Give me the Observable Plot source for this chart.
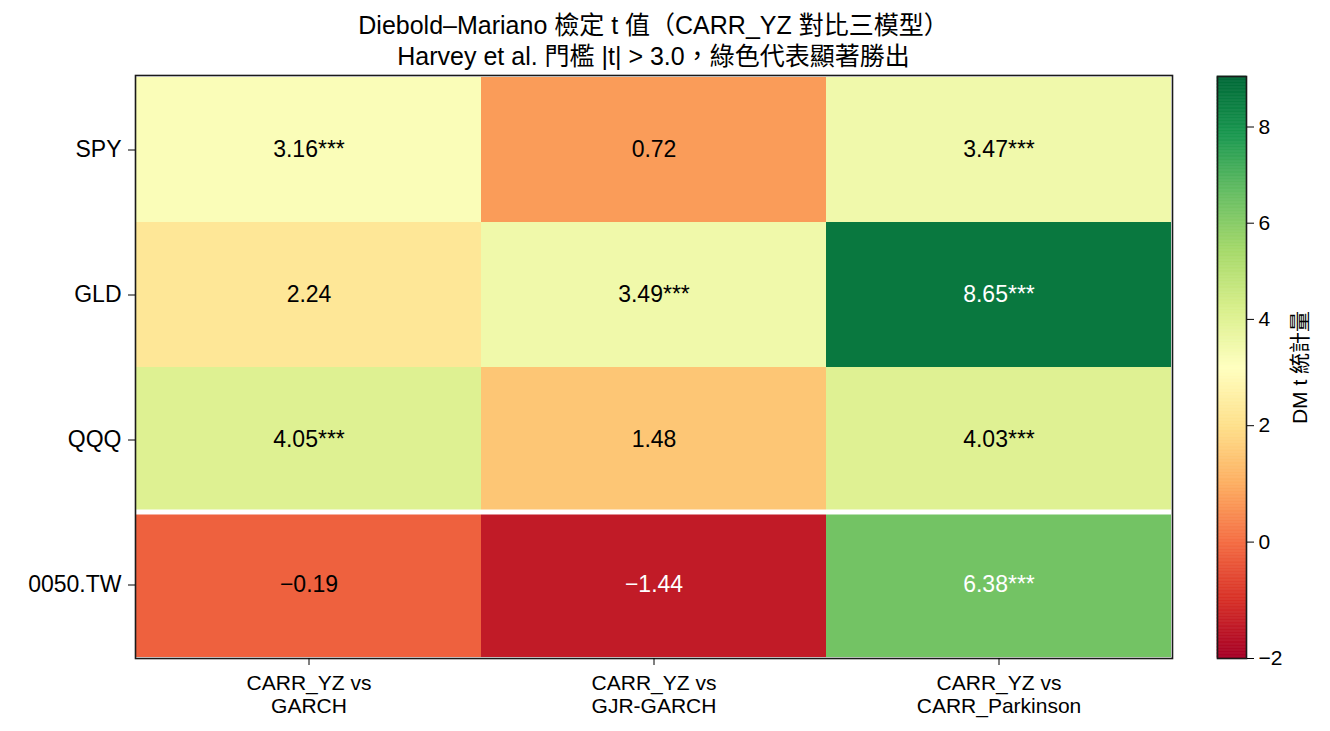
<!DOCTYPE html>
<html><head><meta charset="utf-8">
<script src="https://cdn.jsdelivr.net/npm/d3@7"></script>
<script src="https://cdn.jsdelivr.net/npm/@observablehq/plot@0.6"></script>
<style>
html,body{margin:0;padding:0;background:#fff;}
#wrap{position:relative;width:1330px;height:731px;font-family:"Liberation Sans","Noto Sans CJK TC",sans-serif;color:#000;overflow:hidden;}
#title{position:absolute;left:135px;width:1037px;top:10px;text-align:center;font-size:25px;line-height:31px;}
#heat{position:absolute;left:0;top:0;}
#cbar{position:absolute;left:1190px;top:0;}
</style></head><body>
<div id="wrap">
  <div id="title">
    <div>Diebold–Mariano 檢定 t 值（CARR_YZ 對比三模型）</div>
    <div>Harvey et al. 門檻 |t| &gt; 3.0，綠色代表顯著勝出</div>
  </div>
  <div id="heat"></div>
  <div id="cbar"></div>
</div>
<script>
// ---- data ----
const assets = ["SPY", "GLD", "QQQ", "0050.TW"];
const models = ["CARR_YZ vs\nGARCH", "CARR_YZ vs\nGJR-GARCH", "CARR_YZ vs\nCARR_Parkinson"];
const dmVsGarch = [3.16, 2.24, 4.05, -0.19];
const dmVsGjrGarch = [0.72, 3.49, 1.48, -1.44];
const dmVsCarrParkinson = [3.47, 8.65, 4.03, 6.38];
const threshold = 3.0;
const separatorAfter = "QQQ";
const colorbarTicks = [-2, 0, 2, 4, 6, 8];
const vmin = -2, vcenter = 3, vmax = 9.05;

// ---- style ----
const rdylgn = ["#a50026","#d73027","#f46d43","#fdae61","#fee08b","#ffffbf","#d9ef8b","#a6d96a","#66bd63","#1a9850","#006837"];
const FONT = '"Liberation Sans","Noto Sans CJK TC",sans-serif';
const FS = 23, FSX = 21;
const W = 1190, H = 731, mTop = 75, mBottom = 73, mLeft = 135, mRight = 18;

const series = [dmVsGarch, dmVsGjrGarch, dmVsCarrParkinson];
const data = [];
assets.forEach((a, i) => models.forEach((m, j) => data.push({asset: a, model: m, t: series[j][i]})));

// two-slope normalisation (vmin → 0, vcenter → 0.5, vmax → 1)
const norm = v => v <= vcenter ? 0.5 * (v - vmin) / (vcenter - vmin) : 0.5 + 0.5 * (v - vcenter) / (vmax - vcenter);
const invNorm = u => u <= 0.5 ? vmin + (u / 0.5) * (vcenter - vmin) : vcenter + ((u - 0.5) / 0.5) * (vmax - vcenter);
const stopValues = rdylgn.map((_, i) => invNorm(i / (rdylgn.length - 1)));
const colorScale = {type: "linear", domain: stopValues, range: rdylgn, interpolate: "rgb"};

const fmt = d3.format(".2f");
const label = d => fmt(d.t) + (d.t > threshold ? "***" : "");
const textFill = d => (d.t > 6 || d.t < -1) ? "white" : "black";

const sepIdx = assets.indexOf(separatorAfter);
const above = data.filter(d => assets.indexOf(d.asset) < sepIdx);
const atSep = data.filter(d => d.asset === separatorAfter);
const below = data.filter(d => assets.indexOf(d.asset) > sepIdx);
const cellOpts = {x: "model", y: "asset", fill: "t", inset: 0};

const heat = Plot.plot({
  width: W, height: H,
  marginTop: mTop, marginBottom: mBottom, marginLeft: mLeft, marginRight: mRight,
  style: {fontSize: FS + "px", fontFamily: FONT, color: "black", background: "transparent"},
  x: {domain: models, padding: 0, label: null},
  y: {domain: assets, padding: 0, label: null},
  color: colorScale,
  marks: [
    Plot.cell(above, cellOpts),
    Plot.cell(atSep, {...cellOpts, insetBottom: 2.5}),
    Plot.cell(below, {...cellOpts, insetTop: 2.5}),
    Plot.text(data, {x: "model", y: "asset", text: label, fill: textFill, fontSize: FS}),
    Plot.frame({stroke: "#1a1a1a", strokeWidth: 1.6}),
    Plot.axisY({tickSize: 7, tickPadding: 7, label: null, fontSize: FS}),
    Plot.axisX({tickSize: 7, tickPadding: 8, label: null, lineHeight: 1.1, fontSize: FSX})
  ]
});
document.getElementById("heat").appendChild(heat);

// ---- colorbar (y in normalised units) ----
const N = 400;
const ramp = d3.range(N).map(i => ({u1: i / N, u2: (i + 1) / N, v: invNorm((i + 0.5) / N)}));
const cbW = 140, cbTop = 76, cbBottomMargin = 73;
const cbar = Plot.plot({
  width: cbW, height: H,
  marginTop: cbTop, marginBottom: cbBottomMargin, marginLeft: 27, marginRight: cbW - 56,
  style: {fontSize: FS + "px", fontFamily: FONT, color: "black", background: "transparent"},
  x: {domain: [0, 1], axis: null},
  y: {domain: [0, 1], axis: null},
  color: colorScale,
  marks: [
    Plot.rect(ramp, {x1: 0, x2: 1, y1: "u1", y2: "u2", fill: "v", stroke: "v", strokeWidth: 0.6}),
    Plot.frame({stroke: "#1a1a1a", strokeWidth: 1.6}),
    Plot.axisY({anchor: "right", ticks: colorbarTicks.map(norm), tickFormat: u => d3.format("d")(invNorm(u)),
      tickSize: 7, tickPadding: 5, fontSize: FSX,
      label: "DM t 統計量", labelAnchor: "center", labelOffset: 60, labelArrow: "none"})
  ]
});
document.getElementById("cbar").appendChild(cbar);
</script>
</body></html>
